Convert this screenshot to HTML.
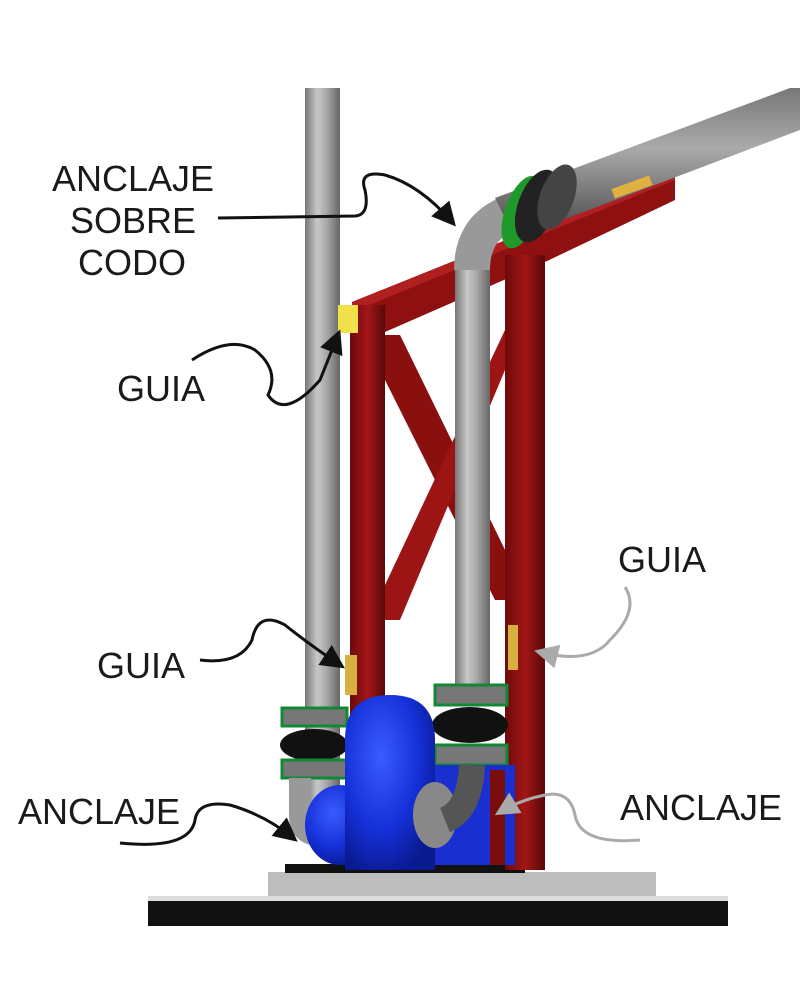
<!DOCTYPE html>
<html><head><meta charset="utf-8"><style>
html,body{margin:0;padding:0;background:#fff;}
svg{display:block;}
text{font-family:"Liberation Sans",sans-serif;font-size:36px;fill:#1a1a1a;}
</style></head><body>
<svg width="800" height="1000" viewBox="0 0 800 1000" xmlns="http://www.w3.org/2000/svg">
<defs>
<linearGradient id="pipeV" x1="0" x2="1" y1="0" y2="0">
<stop offset="0" stop-color="#777"/><stop offset="0.35" stop-color="#c8c8c8"/><stop offset="0.6" stop-color="#aaa"/><stop offset="1" stop-color="#666"/>
</linearGradient>
<linearGradient id="pipeD" x1="0" x2="0" y1="0" y2="1">
<stop offset="0" stop-color="#777"/><stop offset="0.4" stop-color="#aaa"/><stop offset="1" stop-color="#444"/>
</linearGradient>
<linearGradient id="red" x1="0" x2="1">
<stop offset="0" stop-color="#6d0a0a"/><stop offset="0.5" stop-color="#a31616"/><stop offset="1" stop-color="#5a0808"/>
</linearGradient>
<radialGradient id="blue" cx="0.4" cy="0.35" r="0.7">
<stop offset="0" stop-color="#3a5cff"/><stop offset="0.6" stop-color="#1530d8"/><stop offset="1" stop-color="#0a1a90"/>
</radialGradient>
<marker id="ah" markerWidth="8" markerHeight="8" refX="6" refY="4" orient="auto" markerUnits="strokeWidth">
<path d="M0,0 L8,4 L0,8 z" fill="#111"/></marker>
<marker id="ahg" markerWidth="8" markerHeight="8" refX="6" refY="4" orient="auto" markerUnits="strokeWidth">
<path d="M0,0 L8,4 L0,8 z" fill="#aaa"/></marker>
</defs>

<!-- base -->
<rect x="148" y="900" width="580" height="26" fill="#111"/>
<rect x="148" y="896" width="580" height="5" fill="#ddd"/>
<rect x="268" y="872" width="388" height="24" fill="#bdbdbd"/>
<rect x="285" y="864" width="240" height="9" fill="#111"/>

<!-- top beam -->
<polygon points="352,302 675,172 675,200 545,262 385,332 352,332" fill="#8e1010"/>
<polygon points="352,302 675,172 675,180 352,312" fill="#b02020"/>
<!-- brace X -->
<polygon points="385,335 400,335 510,560 510,600 495,600 385,380" fill="#8a0f0f"/>
<polygon points="505,330 505,370 400,620 385,620 385,585" fill="#9c1414"/>
<!-- posts -->
<rect x="350" y="305" width="35" height="565" fill="url(#red)"/>
<rect x="505" y="255" width="40" height="615" fill="url(#red)"/>

<!-- left pipe -->
<rect x="305" y="88" width="35" height="720" fill="url(#pipeV)"/>
<rect x="338" y="305" width="20" height="28" fill="#f2e04a"/>
<rect x="345" y="655" width="12" height="40" fill="#d8b040"/>

<!-- right pipe -->
<rect x="455" y="255" width="35" height="440" fill="url(#pipeV)"/>
<path d="M472,270 Q472,230 505,215" stroke="#999" stroke-width="36" fill="none"/>
<polygon points="495,198 790,88 800,88 800,130 515,238" fill="url(#pipeD)"/>
<!-- flange -->
<ellipse cx="522" cy="212" rx="17" ry="38" transform="rotate(20 522 212)" fill="#1f9a2a"/>
<ellipse cx="537" cy="206" rx="19" ry="38" transform="rotate(20 537 206)" fill="#222"/>
<ellipse cx="557" cy="197" rx="17" ry="34" transform="rotate(20 557 197)" fill="#444"/>
<rect x="612" y="182" width="40" height="10" fill="#e0b040" transform="rotate(-20 632 187)"/>
<rect x="508" y="625" width="10" height="45" fill="#d8b040"/>

<!-- joints left -->
<rect x="282" y="708" width="65" height="18" fill="#777" stroke="#183" stroke-width="3"/>
<ellipse cx="314" cy="745" rx="34" ry="16" fill="#111"/>
<rect x="282" y="760" width="65" height="18" fill="#777" stroke="#183" stroke-width="3"/>
<path d="M300,778 L300,815 Q300,835 320,835" stroke="#999" stroke-width="22" fill="none"/>
<!-- joints right -->
<rect x="435" y="685" width="72" height="20" fill="#777" stroke="#183" stroke-width="3"/>
<ellipse cx="470" cy="725" rx="38" ry="18" fill="#111"/>
<rect x="435" y="745" width="72" height="20" fill="#777" stroke="#183" stroke-width="3"/>

<!-- pump -->
<rect x="430" y="765" width="85" height="100" fill="#1a2fd0"/>
<ellipse cx="340" cy="825" rx="35" ry="40" fill="url(#blue)"/>
<path d="M345,870 L345,740 Q345,695 390,695 Q435,695 435,740 L435,870 Z" fill="url(#blue)"/>
<ellipse cx="435" cy="815" rx="22" ry="33" fill="#888"/>
<path d="M445,820 Q470,810 472,765" stroke="#555" stroke-width="26" fill="none"/>
<rect x="490" y="770" width="15" height="95" fill="#7a0c0c"/>

<!-- labels -->
<text x="52" y="191">ANCLAJE</text>
<text x="70" y="233">SOBRE</text>
<text x="78" y="275">CODO</text>
<text x="117" y="401">GUIA</text>
<text x="97" y="678">GUIA</text>
<text x="18" y="824">ANCLAJE</text>
<text x="618" y="572">GUIA</text>
<text x="620" y="820">ANCLAJE</text>

<!-- arrows -->
<g fill="none" stroke-width="3">
<path d="M218,218 L355,216 Q370,215 365,190 Q358,170 385,175 Q420,185 452,222" stroke="#111" marker-end="url(#ah)"/>
<path d="M192,360 Q230,335 255,350 Q280,370 268,395 Q285,420 320,380 L338,335" stroke="#111" marker-end="url(#ah)"/>
<path d="M200,660 Q240,665 252,640 Q258,610 285,625 Q310,645 340,665" stroke="#111" marker-end="url(#ah)"/>
<path d="M120,843 Q190,850 195,820 Q198,800 230,805 Q265,815 293,838" stroke="#111" marker-end="url(#ah)"/>
<path d="M625,587 Q640,610 610,640 Q590,665 540,652" stroke="#aaa" marker-end="url(#ahg)"/>
<path d="M640,840 Q580,845 575,815 Q570,790 545,795 Q520,800 500,812" stroke="#aaa" marker-end="url(#ahg)"/>
</g>
</svg>
</body></html>
